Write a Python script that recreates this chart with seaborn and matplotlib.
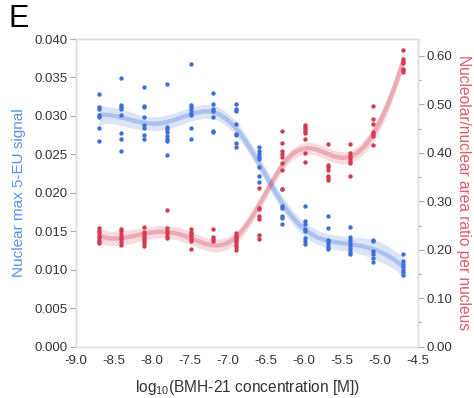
import numpy as np
import pandas as pd
import matplotlib
matplotlib.use("Agg")
import matplotlib.pyplot as plt
import seaborn as sns
from matplotlib.ticker import MultipleLocator, FormatStrFormatter

# ---------------- data ----------------
log10_conc = [-8.70, -8.40, -8.10, -7.80, -7.49, -7.19, -6.89,
              -6.59, -6.29, -5.99, -5.69, -5.39, -5.09, -4.70]

eu_signal = [
    [0.0329, 0.0311, 0.0309, 0.0301, 0.0299, 0.0284, 0.0267],
    [0.0349, 0.0314, 0.0311, 0.0309, 0.0301, 0.0278, 0.0270, 0.0254],
    [0.0338, 0.0313, 0.0311, 0.0299, 0.0288, 0.0284, 0.0275, 0.0270],
    [0.0341, 0.0285, 0.0283, 0.0279, 0.0274, 0.0270, 0.0267, 0.0249],
    [0.0368, 0.0314, 0.0311, 0.0308, 0.0304, 0.0301, 0.0284, 0.0270],
    [0.0330, 0.0315, 0.0309, 0.0307, 0.0298, 0.0281, 0.0279],
    [0.0316, 0.0309, 0.0306, 0.0290, 0.0276, 0.0275, 0.0265, 0.0260],
    [0.0259, 0.0254, 0.0250, 0.0247, 0.0244, 0.0233, 0.0222, 0.0214],
    [0.0205, 0.0183, 0.0180, 0.0170, 0.0167, 0.0160],
    [0.0183, 0.0164, 0.0159, 0.0153, 0.0150, 0.0141, 0.0138, 0.0134],
    [0.0170, 0.0154, 0.0139, 0.0137, 0.0133, 0.0130, 0.0127],
    [0.0155, 0.0143, 0.0139, 0.0135, 0.0131, 0.0127, 0.0123, 0.0120],
    [0.0139, 0.0137, 0.0124, 0.0120, 0.0115, 0.0110],
    [0.0121, 0.0111, 0.0108, 0.0103, 0.0100, 0.0097, 0.0093],
]

area_ratio = [
    [0.244, 0.239, 0.234, 0.229, 0.224, 0.219, 0.213],
    [0.243, 0.238, 0.233, 0.227, 0.222, 0.216, 0.210],
    [0.248, 0.237, 0.232, 0.227, 0.222, 0.218, 0.213, 0.208],
    [0.282, 0.244, 0.239, 0.234, 0.229, 0.224],
    [0.243, 0.237, 0.233, 0.228, 0.223, 0.218, 0.202],
    [0.242, 0.227, 0.222, 0.218],
    [0.234, 0.229, 0.224, 0.220, 0.215, 0.210, 0.205, 0.200],
    [0.328, 0.287, 0.284, 0.270, 0.263, 0.231, 0.222],
    [0.445, 0.421, 0.403, 0.397, 0.391, 0.380, 0.364, 0.326],
    [0.458, 0.454, 0.450, 0.445, 0.440, 0.429, 0.400, 0.381],
    [0.419, 0.374, 0.370, 0.364, 0.353, 0.348, 0.343],
    [0.418, 0.400, 0.394, 0.390, 0.384, 0.380, 0.353],
    [0.497, 0.470, 0.459, 0.444, 0.439, 0.434, 0.417],
    [0.612, 0.594, 0.590, 0.586, 0.574, 0.571, 0.567],
]

x_ticks = [-9.0, -8.5, -8.0, -7.5, -7.0, -6.5, -6.0, -5.5, -5.0, -4.5]

BLUE = "#3d6fd9"
RED = "#d43b51"

# ---------------- tidy frames ----------------
def long_frame(values):
    rows = [(x, v) for x, col in zip(log10_conc, values) for v in col]
    return pd.DataFrame(rows, columns=["x", "y"])

df_eu = long_frame(eu_signal)
df_ar = long_frame(area_ratio)

# ---------------- penalized cubic spline (fixed smoothness), 95% CI ----------------
knots = np.linspace(-8.55, -4.85, 12)
X0 = 6.7

def basis(x):
    xs = np.asarray(x, dtype=float) + X0
    cols = [np.ones_like(xs), xs, xs ** 2, xs ** 3]
    cols += [np.clip(xs - (k + X0), 0, None) ** 3 for k in knots]
    return np.column_stack(cols)

def spline_fit(df, grid, edf):
    X = basis(df["x"].values)
    y = df["y"].values
    n, p = X.shape
    D = np.diag([0.0] * 4 + [1.0] * (p - 4))
    XtX = X.T @ X
    best = None
    for lam in 10.0 ** np.linspace(-8, 3, 221):
        A = np.linalg.inv(XtX + lam * D)
        tr = np.trace(A @ XtX)
        if best is None or abs(tr - edf) < abs(best[0] - edf):
            best = (tr, A)
    tr, A = best
    beta = A @ X.T @ y
    rss = np.sum((y - X @ beta) ** 2)
    s2 = rss / (n - tr)
    cov = s2 * A @ XtX @ A
    G = basis(grid)
    fit = G @ beta
    se = np.sqrt(np.einsum("ij,jk,ik->i", G, cov, G))
    return fit, fit - 1.96 * se, fit + 1.96 * se

grid = np.linspace(min(log10_conc), max(log10_conc), 300)
fit_eu, lo_eu, hi_eu = spline_fit(df_eu, grid, 8.0)
fit_ar, lo_ar, hi_ar = spline_fit(df_ar, grid, 8.0)

# ---------------- style ----------------
sns.set_theme(style="white")
plt.rcParams["font.family"] = ["Liberation Sans", "DejaVu Sans"]
plt.rcParams["axes.unicode_minus"] = False
plt.rcParams["mathtext.fontset"] = "custom"
plt.rcParams["mathtext.rm"] = "Liberation Sans"
plt.rcParams["mathtext.it"] = "Liberation Sans:italic"

fig = plt.figure(figsize=(4.74, 3.98), dpi=100)
ax = fig.add_axes([0.160, 0.129, 0.722, 0.773])
ax2 = ax.twinx()

spine_col = "#dddddd"
tick_col = "#aaaaaa"
lab_col = "#333333"

# fits
ax2.fill_between(grid, lo_ar, hi_ar, color=RED, alpha=0.18, lw=0)
ax2.plot(grid, fit_ar, color=RED, alpha=0.3, lw=3.2, solid_capstyle="butt")
ax.fill_between(grid, lo_eu, hi_eu, color=BLUE, alpha=0.18, lw=0)
ax.plot(grid, fit_eu, color=BLUE, alpha=0.3, lw=3.2, solid_capstyle="butt")

sns.scatterplot(data=df_ar, x="x", y="y", ax=ax2, color=RED, s=10,
                linewidth=0, legend=False, zorder=3)
sns.scatterplot(data=df_eu, x="x", y="y", ax=ax, color=BLUE, s=10,
                linewidth=0, legend=False, zorder=3)

ax.set_xlim(-9.0, -4.5)
ax.set_ylim(0, 0.040)
ax2.set_ylim(0, 0.635)

ax.set_xticks(x_ticks)
ax.xaxis.set_major_formatter(FormatStrFormatter("%.1f"))
ax.yaxis.set_major_locator(MultipleLocator(0.005))
ax.yaxis.set_major_formatter(FormatStrFormatter("%.3f"))
ax2.yaxis.set_major_locator(MultipleLocator(0.10))
ax2.yaxis.set_minor_locator(MultipleLocator(0.05))
ax2.yaxis.set_major_formatter(FormatStrFormatter("%.2f"))

for a in (ax, ax2):
    for sp in a.spines.values():
        sp.set_color(spine_col)
        sp.set_linewidth(1.0)
    a.tick_params(which="both", direction="out", color=tick_col,
                  labelcolor=lab_col, labelsize=9.5, length=4, width=0.8, pad=2)
    a.tick_params(which="minor", length=2.5)

ax.set_xlabel(r"log$_{\mathrm{10}}$(BMH-21 concentration [M])",
              fontsize=11.2, color=lab_col, labelpad=8)
ax.set_ylabel("Nuclear max 5-EU signal", fontsize=11, color="#5b8ef0",
              labelpad=6)
ax2.set_ylabel("Nucleolar/nuclear area ratio per nucleus", fontsize=11.2,
               color="#e05a6a", rotation=270, va="bottom", labelpad=3)

fig.text(0.018, 0.99, "E", fontsize=22, va="top", ha="left", color="black")

fig.savefig("out.png", dpi=100, facecolor="white")
